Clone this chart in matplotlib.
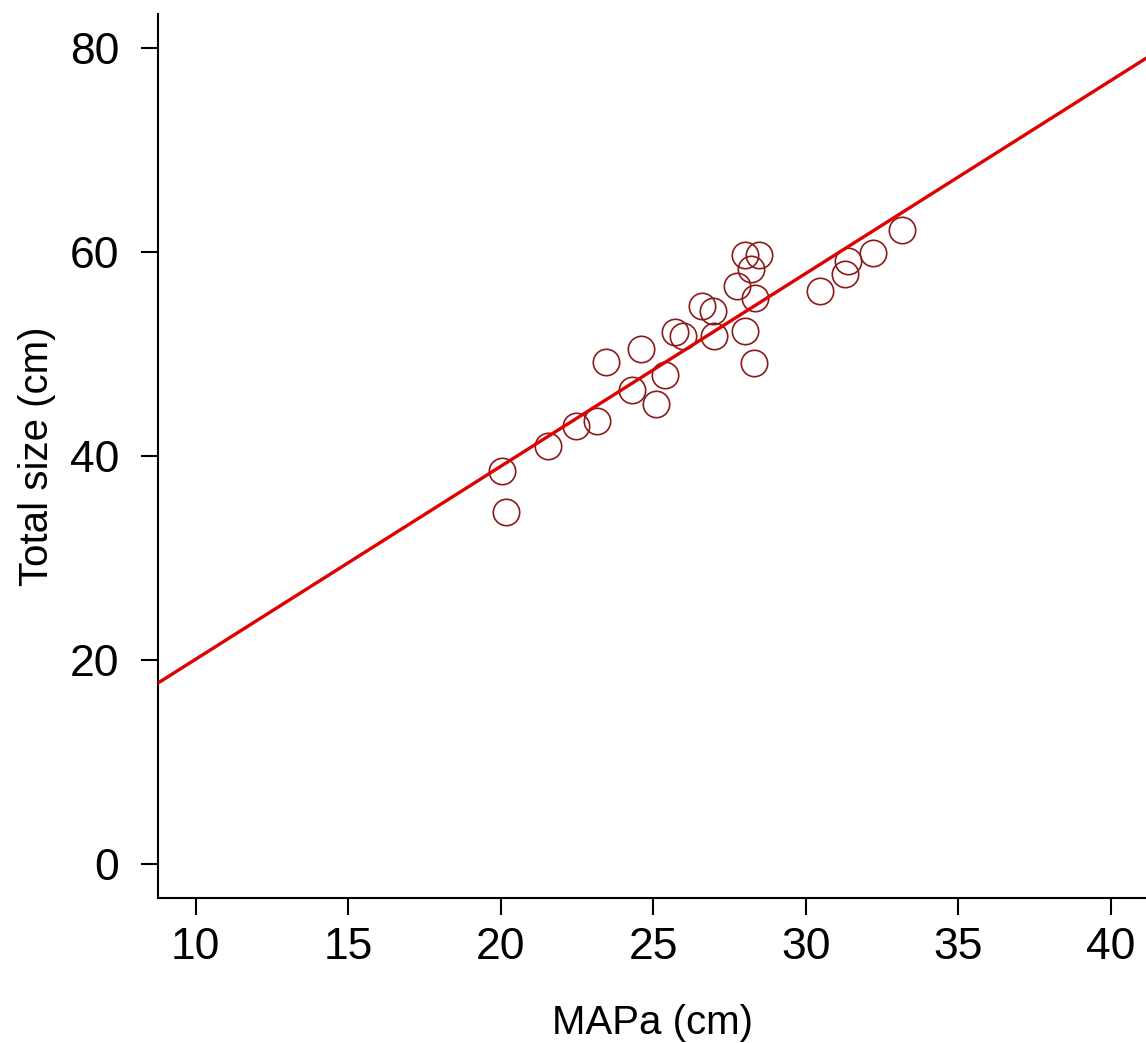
import matplotlib
matplotlib.use("Agg")
import matplotlib.pyplot as plt
import numpy as np

plt.rcParams['font.family'] = ['Liberation Sans', 'DejaVu Sans']

mapa = [33.16, 32.2, 31.4, 31.29, 30.47, 28.0, 28.48, 28.2, 27.74, 28.34,
        26.59, 26.95, 25.71, 25.99, 27.0, 28.0, 28.31, 24.59, 23.44, 25.38,
        24.3, 25.08, 23.15, 22.46, 21.56, 20.03, 20.16]
total_size = [62.1, 59.9, 59.1, 57.8, 56.15, 59.7, 59.7, 58.3, 56.7, 55.5,
              54.7, 54.2, 52.1, 51.8, 51.8, 52.2, 49.1, 50.5, 49.2, 47.9,
              46.5, 45.1, 43.4, 42.9, 41.0, 38.5, 34.5]
fit_intercept = 1.21
fit_slope = 1.889

x_ticks = [10, 15, 20, 25, 30, 35, 40]
y_ticks = [0, 20, 40, 60, 80]

fig = plt.figure(figsize=(11.46, 10.43), dpi=100)
ax = fig.add_axes([158/1146, 1-898/1043, 1-158/1146, (898-14)/1043])

ax.plot(mapa, total_size, linestyle='none', marker='o', markersize=19,
        markerfacecolor='none', markeredgecolor='#8b1a1a', markeredgewidth=1.2, zorder=2)
ax.axline((0, fit_intercept), slope=fit_slope, color='#e00000', linewidth=2.4, zorder=3)

ax.set_xlim(8.76, 41.16)
ax.set_ylim(-3.3, 83.3)
ax.set_xticks(x_ticks)
ax.set_yticks(y_ticks)
ax.spines['top'].set_visible(False)
ax.spines['right'].set_visible(False)
for s in ('left', 'bottom'):
    ax.spines[s].set_linewidth(1.5)
ax.tick_params(axis='both', direction='out', length=12, width=1.5, labelsize=32, colors='black')
ax.tick_params(axis='x', pad=9)
ax.tick_params(axis='y', pad=16)
ax.set_xlabel('MAPa (cm)', fontsize=29, labelpad=26)
ax.set_ylabel('Total size (cm)', fontsize=29, labelpad=10)

fig.savefig('out.png', dpi=100, facecolor='white')
